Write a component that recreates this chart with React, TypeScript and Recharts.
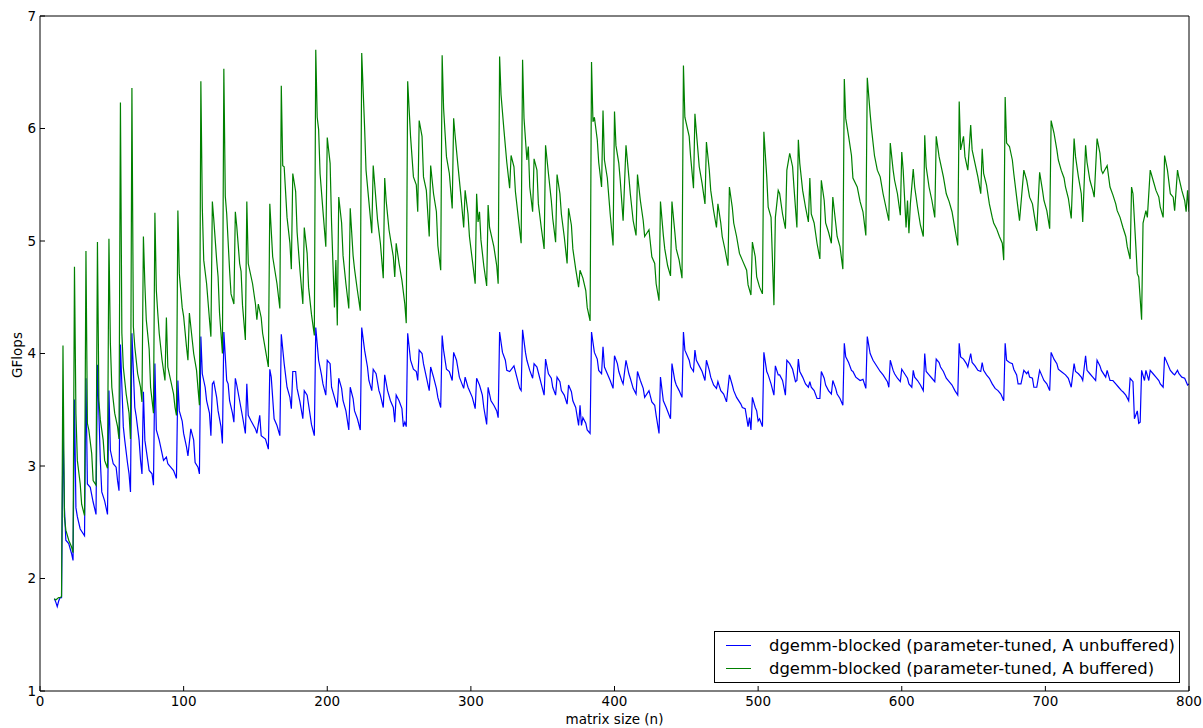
import React from 'react';
import { LineChart, Line, XAxis, YAxis } from 'recharts';

// matrix size n, GFlops — dgemm-blocked (parameter-tuned, A unbuffered)
const blueSeries: [number, number][] = [
  [10,1.82],[11,1.79],[12,1.75],[13,1.80],[14,1.83],[15,1.83],
  [16,3.35],[17,2.63],[18,2.34],[20,2.31],[22,2.22],[23,2.16],
  [24,3.59],[25,2.63],[26,2.55],[28,2.44],[31,2.38],
  [32,3.78],[33,2.84],[35,2.81],[37,2.68],[39,2.57],
  [40,3.90],[42,3.05],[43,2.77],[45,2.69],[47,2.57],
  [48,3.67],[49,3.14],[51,3.02],[53,2.99],[54,2.87],[55,2.78],
  [56,4.08],[58,3.35],[59,3.23],[61,3.02],[62,2.93],[63,2.77],
  [64,4.18],[66,3.52],[67,3.44],[69,3.23],[70,3.05],[71,2.93],
  [72,3.66],[73,3.23],[75,3.05],[76,2.96],[78,2.93],[79,2.83],
  [80,3.91],[81,3.32],[83,3.23],[85,3.11],[86,3.05],[88,3.08],[89,3.02],[91,2.99],[93,2.96],[95,2.89],
  [96,3.76],[97,3.49],[99,3.40],[100,3.29],[102,3.17],[103,3.09],[105,3.33],[107,3.23],[108,3.03],[110,2.99],[111,2.93],
  [112,4.15],[113,3.82],[115,3.70],[116,3.58],[118,3.47],[119,3.27],
  [120,3.73],[121,3.75],[123,3.61],[124,3.49],[126,3.35],[127,3.20],
  [128,4.19],[130,3.76],[131,3.73],[132,3.58],[134,3.47],[135,3.39],
  [136,3.78],[137,3.72],[139,3.58],[141,3.44],[143,3.29],
  [144,3.73],[145,3.45],[147,3.40],[150,3.33],[151,3.29],[153,3.45],[154,3.27],[157,3.24],[159,3.15],
  [160,3.86],[161,3.79],[163,3.42],[165,3.36],[167,3.27],
  [168,4.17],[170,3.91],[172,3.70],[174,3.61],[175,3.51],
  [176,3.84],[178,3.84],[179,3.69],[181,3.57],[183,3.42],
  [184,3.67],[186,3.63],[188,3.46],[189,3.37],[191,3.27],
  [192,4.23],[194,3.94],[196,3.81],[197,3.73],[199,3.63],
  [200,3.94],[202,3.91],[203,3.70],[205,3.61],[207,3.52],
  [208,3.78],[210,3.69],[211,3.58],[213,3.49],[215,3.32],
  [216,3.70],[218,3.60],[219,3.49],[221,3.42],[223,3.32],
  [224,4.23],[226,4.03],[228,3.88],[229,3.76],[231,3.67],
  [232,3.86],[234,3.82],[236,3.67],[237,3.63],[239,3.52],
  [240,3.81],[242,3.67],[244,3.58],[246,3.52],[247,3.39],
  [248,3.63],[250,3.58],[252,3.51],[253,3.35],[254,3.39],[255,3.35],
  [256,4.18],[258,3.94],[260,3.86],[262,3.84],[263,3.76],
  [264,4.03],[266,4.00],[267,3.91],[269,3.79],[271,3.67],
  [272,3.88],[274,3.79],[276,3.69],[277,3.61],[279,3.52],
  [280,4.16],[281,4.03],[283,3.86],[285,3.84],[287,3.76],
  [288,4.01],[290,3.94],[292,3.79],[295,3.69],
  [296,3.79],[298,3.70],[301,3.61],[303,3.51],
  [304,3.78],[306,3.72],[308,3.63],[309,3.52],[311,3.37],
  [312,3.70],[314,3.58],[316,3.54],[318,3.49],[319,3.43],
  [320,4.19],[322,4.01],[324,3.94],[325,3.85],[327,3.84],[330,3.89],[332,3.79],[334,3.69],[335,3.67],
  [336,4.21],[338,4.01],[339,3.94],[341,3.85],[343,3.78],
  [344,3.91],[346,3.88],[348,3.78],[349,3.73],[351,3.63],
  [352,3.95],[354,3.82],[356,3.78],[357,3.70],[359,3.63],
  [360,3.79],[362,3.75],[363,3.67],[365,3.63],[367,3.55],
  [368,3.72],[370,3.66],[371,3.58],[373,3.52],[375,3.36],[376,3.54],[377,3.36],[378,3.43],[380,3.38],[381,3.32],[383,3.29],
  [384,4.19],[386,4.01],[388,3.95],[389,3.85],[391,3.82],
  [392,4.06],[393,3.88],[395,3.82],[397,3.76],[399,3.69],
  [400,3.98],[402,3.91],[403,3.84],[405,3.76],[406,3.73],
  [408,3.94],[410,3.82],[411,3.78],[413,3.69],[415,3.64],
  [416,3.84],[418,3.76],[420,3.69],[421,3.61],[424,3.67],[426,3.57],[428,3.54],[429,3.45],[431,3.29],
  [432,3.79],[434,3.58],[436,3.52],[439,3.42],
  [440,3.91],[442,3.76],[443,3.72],[445,3.67],[447,3.61],
  [448,4.19],[449,4.03],[452,3.94],[453,3.88],[455,3.84],
  [456,4.03],[457,3.94],[459,3.89],[461,3.84],[463,3.76],
  [464,3.94],[466,3.85],[467,3.79],[469,3.72],[471,3.69],[472,3.75],[474,3.67],[476,3.64],[478,3.57],
  [480,3.81],[482,3.72],[483,3.67],[485,3.61],[488,3.55],[489,3.52],[491,3.51],[493,3.35],[494,3.43],[495,3.32],
  [496,3.61],[498,3.52],[499,3.49],[500,3.40],[501,3.42],[503,3.35],
  [504,4.01],[506,3.84],[507,3.81],[509,3.73],[511,3.63],
  [512,3.89],[514,3.81],[515,3.81],[517,3.76],[519,3.63],
  [520,3.94],[522,3.91],[524,3.86],[526,3.75],[527,3.76],
  [528,3.95],[529,3.84],[531,3.79],[533,3.73],[535,3.70],
  [536,3.75],[537,3.70],[539,3.67],[541,3.60],[543,3.60],
  [544,3.84],[546,3.78],[547,3.72],[549,3.67],[551,3.64],
  [552,3.76],[554,3.69],[555,3.64],[557,3.60],[559,3.54],
  [560,4.09],[561,3.97],[563,3.92],[565,3.85],[566,3.84],[568,3.79],[571,3.76],[573,3.77],[575,3.69],
  [576,4.15],[578,4.00],[580,3.94],[583,3.88],[585,3.84],[587,3.81],[590,3.75],[591,3.70],
  [592,3.94],[594,3.85],[595,3.82],[597,3.78],[599,3.75],
  [600,3.86],[602,3.82],[604,3.78],[605,3.73],[607,3.70],
  [608,3.85],[609,3.79],[611,3.76],[613,3.72],[615,3.67],
  [616,4.00],[617,3.84],[619,3.81],[621,3.78],[623,3.75],
  [624,3.95],[626,3.92],[627,3.88],[629,3.84],[631,3.78],[633,3.75],[635,3.72],[637,3.67],[639,3.63],
  [640,4.09],[641,3.97],[643,3.95],[645,3.91],[646,3.88],[648,4.00],[649,3.92],[651,3.89],[653,3.85],[655,3.84],
  [656,3.92],[657,3.85],[659,3.81],[661,3.78],[663,3.73],[665,3.69],[667,3.67],[669,3.64],[671,3.58],
  [672,4.09],[673,3.94],[675,3.92],[677,3.91],[678,3.86],[680,3.81],[681,3.73],[683,3.73],[685,3.85],[687,3.82],[688,3.84],[689,3.79],[691,3.78],[692,3.70],[694,3.70],
  [696,3.85],[698,3.79],[699,3.76],[701,3.73],[703,3.67],
  [704,4.01],[706,3.95],[708,3.91],[709,3.86],[711,3.84],[714,3.81],[716,3.78],[718,3.70],
  [720,3.91],[721,3.84],[723,3.82],[725,3.79],[726,3.76],
  [728,3.98],[729,3.85],[731,3.82],[733,3.79],[735,3.76],
  [736,3.94],[738,3.89],[739,3.85],[742,3.79],[743,3.85],[745,3.76],[747,3.76],[749,3.73],[751,3.70],[753,3.67],[754,3.66],[756,3.63],[758,3.58],
  [759,3.78],[761,3.75],[762,3.42],[764,3.49],[765,3.38],[766,3.39],[767,3.85],[769,3.76],[770,3.85],[772,3.76],[773,3.85],[775,3.82],[777,3.79],[779,3.76],[780,3.73],[782,3.70],
  [783,3.97],[785,3.91],[787,3.85],[789,3.82],[790,3.81],
  [792,3.85],[793,3.82],[795,3.79],[797,3.78],[799,3.72],[800,3.73],
];

// matrix size n, GFlops — dgemm-blocked (parameter-tuned, A buffered)
const greenSeries: [number, number][] = [
  [10,1.82],[11,1.81],[12,1.82],[13,1.83],[14,1.83],[15,1.84],
  [16,4.07],[17,2.55],[18,2.43],[20,2.34],[22,2.28],[23,2.23],
  [24,4.77],[25,3.47],[26,3.05],[28,2.84],[29,2.66],[31,2.56],
  [32,4.91],[33,3.38],[34,3.32],[36,3.11],[37,2.87],[39,2.83],
  [40,4.99],[41,3.58],[42,3.41],[44,3.23],[45,3.05],[47,2.98],
  [48,5.02],[49,4.09],[50,3.70],[52,3.47],[54,3.35],[55,3.24],
  [56,6.23],[57,4.18],[58,3.88],[60,3.64],[62,3.47],[63,3.24],
  [64,6.36],[65,4.24],[66,4.06],[68,3.82],[70,3.70],[71,3.57],
  [72,5.04],[73,4.62],[74,4.30],[76,4.04],[77,3.70],[79,3.47],
  [80,5.25],[81,4.56],[82,4.36],[83,4.18],[85,3.94],[87,3.76],
  [88,4.32],[89,3.88],[91,3.76],[93,3.64],[94,3.52],[95,3.45],
  [96,5.27],[97,4.71],[99,4.41],[100,4.33],[102,4.06],[103,3.94],
  [104,4.36],[106,4.12],[107,4.00],[109,3.85],[110,3.69],[111,3.54],
  [112,6.42],[113,5.30],[114,4.83],[116,4.62],[118,4.30],[119,4.15],
  [120,5.35],[121,5.19],[123,4.83],[124,4.68],[125,4.36],[127,4.00],
  [128,6.53],[129,5.40],[130,5.24],[132,4.74],[133,4.53],[135,4.44],
  [136,5.26],[137,5.13],[139,4.80],[140,4.73],[141,4.43],[143,4.12],
  [144,5.35],[145,4.80],[148,4.62],[150,4.44],[151,4.30],[152,4.44],[154,4.32],[155,4.18],[157,4.03],[159,3.88],
  [160,5.33],[162,4.86],[165,4.62],[167,4.40],
  [168,6.38],[169,5.67],[170,5.66],[172,5.21],[174,4.98],[175,4.75],
  [176,5.60],[178,5.44],[179,5.08],[181,4.74],[183,4.44],
  [184,5.12],[186,4.89],[187,4.59],[189,4.35],[191,4.16],
  [192,6.70],[193,6.10],[194,5.99],[195,5.60],[197,5.27],[199,4.95],
  [200,5.92],[202,5.69],[203,5.16],[205,4.41],[206,4.83],[207,4.25],
  [208,5.39],[210,5.16],[211,4.87],[213,4.62],[215,4.40],
  [216,5.29],[218,4.87],[219,4.75],[221,4.56],[223,4.38],
  [224,6.67],[226,6.01],[227,5.63],[229,5.35],[231,5.07],
  [232,5.67],[233,5.51],[235,5.19],[237,4.98],[239,4.67],
  [240,5.56],[241,5.36],[243,5.10],[246,4.86],[247,4.68],
  [248,4.98],[250,4.80],[252,4.65],[254,4.44],[255,4.27],
  [256,6.42],[258,5.93],[260,5.57],[262,5.50],[263,5.26],
  [264,6.07],[266,5.93],[267,5.57],[269,5.45],[271,5.04],
  [272,5.67],[274,5.42],[276,5.26],[277,4.96],[279,4.74],
  [280,6.65],[281,6.18],[283,5.75],[285,5.60],[287,5.29],
  [288,6.09],[289,5.94],[291,5.67],[293,5.41],[295,5.12],
  [296,5.45],[298,5.24],[299,5.04],[301,4.83],[303,4.62],
  [304,5.42],[305,5.17],[306,5.26],[307,5.01],[309,4.78],[311,4.60],
  [312,5.32],[313,5.12],[316,4.95],[318,4.78],[319,4.62],
  [320,6.64],[321,6.30],[323,5.99],[325,5.70],[327,5.47],[328,5.76],[330,5.66],[331,5.44],[333,5.21],[335,4.98],
  [336,6.61],[337,6.09],[339,5.72],[340,5.84],[341,5.48],[343,5.26],
  [344,5.73],[346,5.63],[347,5.33],[349,5.12],[351,4.93],
  [352,5.85],[354,5.60],[356,5.36],[357,5.20],[359,4.99],
  [360,5.59],[362,5.42],[363,5.24],[365,5.04],[367,4.80],
  [368,5.29],[370,5.14],[371,4.93],[373,4.75],[375,4.59],
  [376,4.74],[378,4.67],[380,4.56],[381,4.41],[383,4.29],
  [384,6.59],[385,6.06],[386,6.10],[388,5.90],[389,5.70],[391,5.48],
  [392,6.16],[393,5.72],[395,5.56],[397,5.24],[399,4.96],
  [400,6.15],[401,5.85],[403,5.69],[404,5.54],[406,5.18],
  [408,5.85],[410,5.57],[411,5.42],[413,5.18],[415,5.05],
  [416,5.59],[418,5.36],[420,5.18],[421,5.04],[424,5.10],[426,4.86],[428,4.80],[429,4.62],[431,4.47],
  [432,5.35],[434,5.05],[435,4.93],[437,4.78],[439,4.69],
  [440,5.35],[442,5.08],[443,4.93],[445,4.83],[447,4.67],
  [448,6.56],[449,6.10],[452,5.93],[453,5.75],[455,5.47],
  [456,6.13],[457,5.97],[459,5.66],[461,5.51],[463,5.33],
  [464,5.88],[466,5.63],[467,5.45],[469,5.27],[471,5.12],
  [472,5.33],[474,5.16],[475,5.04],[477,4.92],[479,4.78],
  [480,5.48],[482,5.30],[483,5.16],[485,5.04],[487,4.89],[489,4.83],[492,4.74],[493,4.61],[495,4.52],
  [496,4.99],[498,4.86],[499,4.68],[501,4.59],[503,4.53],
  [504,5.97],[506,5.57],[507,5.30],[509,5.21],[511,4.43],
  [512,5.21],[514,5.45],[515,5.42],[517,5.24],[519,5.11],
  [520,5.63],[522,5.78],[524,5.66],[525,5.47],[527,5.12],
  [528,5.90],[529,5.69],[531,5.45],[533,5.30],[535,5.17],
  [536,5.56],[537,5.24],[539,5.16],[541,4.98],[543,4.84],
  [544,5.54],[546,5.36],[547,5.16],[549,5.08],[551,4.98],
  [552,5.39],[554,5.16],[555,5.04],[557,4.95],[559,4.75],
  [560,6.44],[561,6.09],[563,5.93],[565,5.76],[566,5.56],[569,5.48],[571,5.35],[573,5.26],[575,5.05],
  [576,6.45],[578,6.13],[579,5.99],[581,5.76],[583,5.63],[585,5.57],[587,5.42],[588,5.36],[591,5.18],
  [592,5.87],[594,5.63],[595,5.54],[597,5.42],[599,5.23],
  [600,5.79],[601,5.63],[603,5.12],[604,5.36],[605,5.07],[606,5.33],
  [608,5.64],[609,5.48],[611,5.30],[613,5.14],[615,5.04],
  [616,5.94],[617,5.66],[619,5.48],[621,5.36],[623,5.21],
  [624,5.93],[626,5.75],[627,5.69],[629,5.57],[631,5.42],[633,5.35],[635,5.26],[637,5.11],[639,4.96],
  [640,6.24],[641,5.81],[643,5.93],[644,5.75],[646,5.63],[648,6.03],[649,5.81],[651,5.69],[653,5.57],[655,5.42],
  [656,5.82],[657,5.60],[659,5.50],[661,5.33],[663,5.21],[664,5.16],[666,5.11],[668,5.04],[670,4.98],[671,4.83],
  [672,6.28],[673,5.87],[675,5.84],[677,5.72],[678,5.60],[680,5.39],[682,5.18],
  [685,5.63],[687,5.54],[689,5.39],[691,5.33],[693,5.17],[694,5.09],
  [696,5.61],[698,5.45],[699,5.36],[701,5.27],[703,5.11],
  [704,6.07],[706,5.96],[708,5.81],[709,5.72],[711,5.63],[713,5.56],[714,5.48],[716,5.38],[718,5.20],
  [720,5.91],[721,5.75],[723,5.57],[725,5.42],[726,5.17],
  [728,5.85],[729,5.70],[731,5.54],[733,5.45],[734,5.39],
  [736,5.91],[738,5.78],[739,5.63],[740,5.60],[743,5.67],[745,5.48],[747,5.41],[749,5.33],[750,5.27],[752,5.21],[754,5.12],[756,5.04],[757,4.95],[759,4.84],
  [760,5.48],[761,5.42],[763,4.95],[764,4.71],[765,4.68],[767,4.30],[768,5.16],[770,5.27],[771,5.21],[773,5.63],[775,5.54],[777,5.45],[779,5.39],[780,5.30],[782,5.21],
  [783,5.76],[785,5.63],[787,5.42],[789,5.39],[790,5.27],
  [792,5.63],[793,5.56],[795,5.45],[797,5.36],[798,5.26],[799,5.45],[800,5.26],
];

const xTicks = [0, 100, 200, 300, 400, 500, 600, 700, 800];
const yTicks = [1, 2, 3, 4, 5, 6, 7];
const blueLabel = 'dgemm-blocked (parameter-tuned, A unbuffered)';
const greenLabel = 'dgemm-blocked (parameter-tuned, A buffered)';
const xTitle = 'matrix size (n)';
const yTitle = 'GFlops';

const BLUE = '#0000ff';
const GREEN = '#008000';
const FONT = '"DejaVu Sans", sans-serif';

const blueData = blueSeries.map(([n, v]) => ({ n, gflops: v }));
const greenData = greenSeries.map(([n, v]) => ({ n, gflops: v }));

export default function App() {
  const tickStyle = { fontSize: 13.5, fill: '#000', fontFamily: FONT };
  const axisLine = { stroke: '#000', strokeWidth: 1 };
  const tickLine = { stroke: '#000', strokeWidth: 1 };
  return (
    <div style={{ position: 'absolute', left: 0, top: 0, width: 1203, height: 728, background: '#fff', fontFamily: FONT }}>
      <LineChart width={1203} height={728} margin={{ top: 12, right: 10, bottom: 0, left: 0 }}>
        <XAxis
          dataKey="n"
          type="number"
          domain={[0, 800]}
          ticks={xTicks}
          height={37}
          tickSize={-5}
          tickMargin={10}
          tick={tickStyle}
          axisLine={axisLine}
          tickLine={tickLine}
          allowDataOverflow
        />
        <XAxis
          xAxisId="top"
          orientation="top"
          type="number"
          domain={[0, 800]}
          ticks={xTicks}
          height={4}
          tickSize={-5}
          tick={false}
          axisLine={axisLine}
          tickLine={tickLine}
        />
        <YAxis
          type="number"
          domain={[1, 7]}
          ticks={yTicks}
          width={40}
          tickSize={-5}
          tickMargin={9}
          tick={tickStyle}
          axisLine={axisLine}
          tickLine={tickLine}
          allowDataOverflow
        />
        <YAxis
          yAxisId="right"
          orientation="right"
          type="number"
          domain={[1, 7]}
          ticks={yTicks}
          width={4}
          tickSize={-5}
          tick={false}
          axisLine={axisLine}
          tickLine={tickLine}
        />
        <Line
          data={blueData}
          dataKey="gflops"
          name={blueLabel}
          type="linear"
          stroke={BLUE}
          strokeWidth={1.2}
          dot={false}
          activeDot={false}
          isAnimationActive={false}
        />
        <Line
          data={greenData}
          dataKey="gflops"
          name={greenLabel}
          type="linear"
          stroke={GREEN}
          strokeWidth={1.2}
          dot={false}
          activeDot={false}
          isAnimationActive={false}
        />
      </LineChart>
      <div
        style={{
          position: 'absolute',
          left: 714,
          top: 631,
          width: 466,
          height: 52,
          boxSizing: 'border-box',
          border: '1px solid #000',
          background: '#fff',
          fontSize: 16.4,
          lineHeight: '23px',
          color: '#000',
          paddingTop: 2,
        }}
      >
        {[{ c: BLUE, t: blueLabel }, { c: GREEN, t: greenLabel }].map((r) => (
          <div key={r.t} style={{ display: 'flex', alignItems: 'center', height: 23 }}>
            <div style={{ marginLeft: 11, width: 25, height: 0, borderTop: `1.3px solid ${r.c}` }} />
            <span style={{ marginLeft: 18, whiteSpace: 'nowrap' }}>{r.t}</span>
          </div>
        ))}
      </div>
      <div
        style={{
          position: 'absolute',
          left: 614.5,
          top: 711,
          transform: 'translateX(-50%)',
          fontSize: 13.5,
          whiteSpace: 'nowrap',
          color: '#000',
        }}
      >
        {xTitle}
      </div>
      <div
        style={{
          position: 'absolute',
          left: 17,
          top: 355,
          transform: 'translate(-50%, -50%) rotate(-90deg)',
          fontSize: 13.5,
          whiteSpace: 'nowrap',
          color: '#000',
        }}
      >
        {yTitle}
      </div>
    </div>
  );
}
